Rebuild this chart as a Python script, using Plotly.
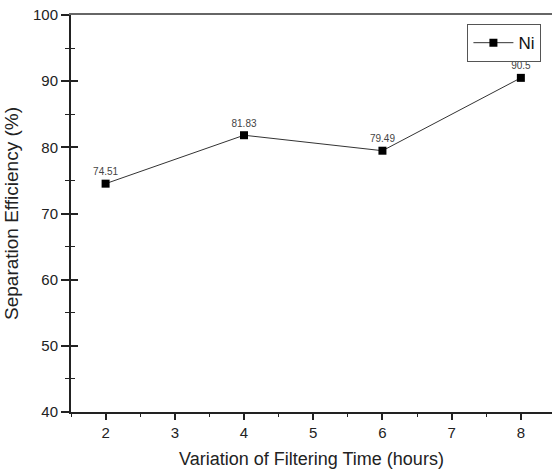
import plotly.graph_objects as go

hours = [2, 4, 6, 8]
efficiency = [74.51, 81.83, 79.49, 90.5]
labels = ["74.51", "81.83", "79.49", "90.5"]
series_name = "Ni"
x_ticks = [2, 3, 4, 5, 6, 7, 8]
y_ticks = [40, 50, 60, 70, 80, 90, 100]

FONT = "Liberation Sans, Arial, sans-serif"

fig = go.Figure()
fig.add_trace(go.Scatter(
    x=hours, y=efficiency, mode="lines+markers+text", name=series_name,
    text=labels, textposition="top center",
    textfont=dict(size=10, color="#444", family=FONT),
    line=dict(color="#333", width=1),
    marker=dict(symbol="square", size=8, color="black"),
))
# invisible companion trace carrying the overlay axes (inside ticks, grey top frame)
fig.add_trace(go.Scatter(
    x=hours, y=efficiency, mode="markers", xaxis="x2", yaxis="y2", showlegend=False,
    marker=dict(opacity=0), hoverinfo="skip",
))

fig.update_layout(
    width=552, height=471,
    margin=dict(l=71, r=0, t=15, b=59),
    paper_bgcolor="white", plot_bgcolor="white",
    font=dict(family=FONT, color="#222"),
    showlegend=True,
    legend=dict(x=0.978, y=0.977, xanchor="right", yanchor="top",
                bordercolor="#555", borderwidth=1, bgcolor="white",
                font=dict(size=17, color="#111"), itemwidth=40,
                tracegroupgap=0),
    xaxis=dict(
        range=[1.5, 8.45], tickvals=x_ticks, ticktext=[str(v) for v in x_ticks],
        showgrid=False, zeroline=False,
        showline=True, linecolor="#222", linewidth=2,
        ticks="outside", ticklen=6, tickwidth=1.5, tickcolor="#222",
        minor=dict(dtick=0.5, tick0=1.5, ticks="outside", ticklen=3, tickwidth=1.2, tickcolor="#222"),
        tickfont=dict(size=15, color="#222"),
        title=dict(text="Variation of Filtering Time (hours)", font=dict(size=18, color="#222"), standoff=12),
    ),
    xaxis2=dict(
        range=[1.5, 8.45], overlaying="x", side="top", anchor="y2",
        showticklabels=False, showgrid=False, zeroline=False, ticks="",
        showline=True, linecolor="#666", linewidth=1.5,
    ),
    yaxis=dict(
        range=[40, 100], tickvals=y_ticks, ticktext=[str(v) for v in y_ticks],
        showgrid=False, zeroline=False,
        showline=True, linecolor="#222", linewidth=2,
        ticks="outside", ticklen=8, tickwidth=1.5, tickcolor="#222",
        minor=dict(dtick=5, ticks="outside", ticklen=4, tickwidth=1.2, tickcolor="#222"),
        tickfont=dict(size=15, color="#222"),
        title=dict(text="Separation Efficiency (%)", font=dict(size=19, color="#222"), standoff=9),
    ),
    yaxis2=dict(
        range=[40, 100], overlaying="y", side="left", anchor="x",
        tickvals=y_ticks, showticklabels=False, showgrid=False, zeroline=False,
        showline=False, ticks="inside", ticklen=7, tickwidth=1.5, tickcolor="#222",
        minor=dict(dtick=5, ticks="inside", ticklen=4, tickwidth=1.2, tickcolor="#222"),
    ),
)

fig.write_html("out.html", config={"displayModeBar": False},
               post_script="document.body.style.margin='0';")
